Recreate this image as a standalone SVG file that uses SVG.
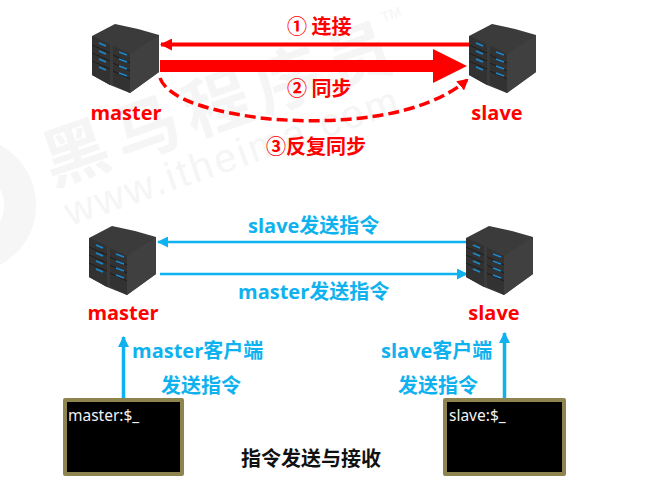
<svg xmlns="http://www.w3.org/2000/svg" width="667" height="484" viewBox="0 0 667 484">
<style>
text{font-family:"Open Sans","Noto Sans CJK SC",sans-serif;font-weight:700;font-size:20px}
.cjk{font-family:"Noto Sans CJK SC","Open Sans",sans-serif}
.r{fill:#f00}.b{fill:#0fb2ee}.k{fill:#111}
.wm{fill:#f5f5f5;font-family:"Noto Sans CJK SC",sans-serif;font-weight:700;font-size:66px}
.wl{fill:#f5f5f5;font-family:"Liberation Sans",sans-serif;font-weight:400;font-size:40px}
.led{stroke:#1f86c8;stroke-width:1.800;fill:none}
.bl{stroke:#0fb2ee;fill:none;stroke-width:2.500}
.term{fill:#000;stroke:#8e8450;stroke-width:4;stroke-linejoin:round}
.tt{fill:#f2f2f2;font-weight:400;font-size:15.500px;font-family:"Noto Sans","Liberation Sans",sans-serif}
</style>
<defs>
<filter id="soft" x="-5%" y="-5%" width="110%" height="110%"><feGaussianBlur stdDeviation="0.500"/></filter>
<marker id="bh" markerUnits="userSpaceOnUse" markerWidth="11" markerHeight="11" refX="10" refY="5.500" orient="auto"><path d="M0 0L11 5.500L0 11Z" fill="#0fb2ee"/></marker>
<marker id="rh" markerUnits="userSpaceOnUse" markerWidth="12" markerHeight="12" refX="11" refY="6" orient="auto"><path d="M0 0L12 6L0 12Z" fill="#f00"/></marker>
<marker id="rd" markerUnits="userSpaceOnUse" markerWidth="11" markerHeight="12" refX="9" refY="6" orient="auto"><path d="M0 0L11 6L0 12Z" fill="#f00"/></marker>
<g id="srv" filter="url(#soft)">
<path d="M1 12L24 0L47 5L68 11V48L39 69L19 61L1 51Z" fill="#3a3a3a"/>
<path d="M1 12L19 20V61L1 51Z" fill="#333"/>
<path d="M22 22L39 30V69L22 60Z" fill="#303030"/>
<path d="M39 30L68 11V48L39 69Z" fill="#404040"/>
<path d="M1 21L19 29M1 29L19 37M1 37L19 45M22 31L39 39M22 39L39 47M22 47L39 55" stroke="#1e1e1e" stroke-width="1" fill="none"/>
<path class="led" d="M8 19L15 22M8 27L15 30M8 35L15 38M8 43L15 46M28 28L36 31M28 35L36 38M28 42L36 45M28 49L36 52"/>
</g>
</defs>
<g id="watermark">
<text class="wm" transform="translate(52 186) rotate(-19)" textLength="365" lengthAdjust="spacing">黑马程序员</text>
<text class="wl" transform="translate(70 226) rotate(-19)" textLength="350" lengthAdjust="spacing">www.itheima.com</text>
<text class="wl" style="font-size:14px" transform="translate(383 22) rotate(-19)">TM</text>
<circle cx="-32" cy="205" r="52" fill="none" stroke="#f6f6f6" stroke-width="32"/>
</g>
<g id="connectors" fill="none">
<path d="M471 44.500H161" stroke="#f00" stroke-width="4" marker-end="url(#rh)"/>
<path d="M160 66H434" stroke="#f00" stroke-width="12"/>
<path d="M433 49L467 66L433 83Z" fill="#f00"/>
<path d="M160 78C168 100 215 113 270 119C345 125 425 116 467 80" stroke="#f00" stroke-width="3.500" stroke-dasharray="11 5" marker-end="url(#rd)"/>
<path class="bl" d="M467 242H158" marker-end="url(#bh)"/>
<path class="bl" d="M160 274H467" marker-end="url(#bh)"/>
<path class="bl" style="stroke-width:3.500px" d="M123.500 399V337" marker-end="url(#bh)"/>
<path class="bl" style="stroke-width:3.500px" d="M504.500 399V333" marker-end="url(#bh)"/>
</g>
<g id="master-top"><use href="#srv" x="91" y="24"/><text class="r" x="126" y="120" text-anchor="middle">master</text></g>
<g id="slave-top"><use href="#srv" x="468" y="24"/><text class="r" x="497" y="120" text-anchor="middle">slave</text></g>
<g id="master-bottom"><use href="#srv" x="88" y="226"/><text class="r" x="123" y="320" text-anchor="middle">master</text></g>
<g id="slave-bottom"><use href="#srv" x="465" y="226"/><text class="r" x="494" y="320" text-anchor="middle">slave</text></g>
<g id="labels">
<text class="r cjk" x="287" y="34">① 连接</text>
<text class="r cjk" x="287" y="96">② 同步</text>
<text class="r cjk" x="266" y="154">③反复同步</text>
<text class="b" x="248" y="233">slave发送指令</text>
<text class="b" x="238" y="299">master发送指令</text>
<text class="b" x="132" y="358">master客户端</text>
<text class="b" x="161" y="393">发送指令</text>
<text class="b" x="381" y="358">slave客户端</text>
<text class="b" x="398" y="393">发送指令</text>
<text class="k" x="241" y="466">指令发送与接收</text>
</g>
<g id="terminal-master"><rect class="term" x="65" y="400" width="117" height="74"/><text class="tt" x="68" y="421">master:$_</text></g>
<g id="terminal-slave"><rect class="term" x="445" y="400" width="119" height="74"/><text class="tt" x="449" y="421">slave:$_</text></g>
</svg>
